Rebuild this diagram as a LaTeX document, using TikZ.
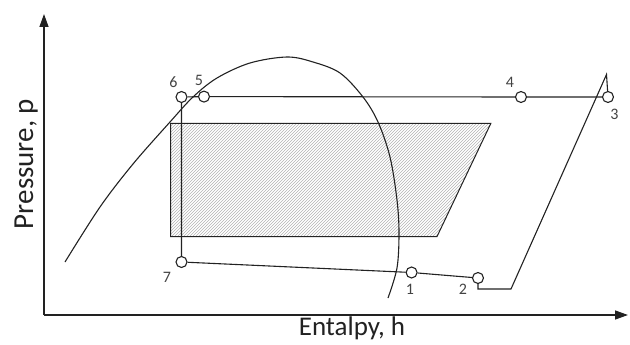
\documentclass[tikz,border=0pt]{standalone}
\usepackage{fontspec}
\setmainfont{Carlito}
\usetikzlibrary{arrows.meta,patterns}
\definecolor{ink}{HTML}{222222}
\definecolor{hatchgray}{HTML}{B2B2B2}

\begin{document}
\begin{tikzpicture}[x=1pt,y=-1pt,axis/.style={line width=1.3pt,draw=ink,-{Triangle[length=13pt,width=9pt]}},cyc/.style={line width=1.1pt,draw=ink},state/.style={circle,draw=ink,fill=white,line width=1.1pt,inner sep=0pt,minimum size=11pt},num/.style={font=\fontsize{16}{18}\selectfont,text=ink!85,inner sep=0pt},axlab/.style={font=\fontsize{27}{30}\selectfont,text=ink,inner sep=0pt}]
\useasboundingbox (0,0) rectangle (630,345);
\coordinate (o) at (44,315);
\coordinate (ytop) at (44,14);
\coordinate (xend) at (628,315);
\draw[axis] (o)--(ytop);
\draw[axis] (o)--(xend);
\node[axlab,rotate=90,anchor=base,font=\fontsize{29}{32}\selectfont] (plab) at (33,164) {Pressure, p};
\node[axlab,anchor=base] (hlab) at (352,335) {Entalpy, h};
\draw[pattern=north east lines,pattern color=hatchgray,draw=ink,line width=1pt] (170.7,123.5)--(490.8,123.5)--(437,236.6)--(170.7,236.6)--cycle;
\draw[cyc] plot[smooth,tension=0.55] coordinates {(65,262) (100,207) (133,164) (170,122) (193,97) (217,78) (250,63) (287,57) (313,62) (340,73) (363,97) (378,122) (390,157) (397,200) (399,233) (397,268) (388,298)};
\node[state] (p6) at (181.5,97) {};
\node[state] (p5) at (204,96.6) {};
\node[state] (p4) at (521,97) {};
\node[state] (p3) at (608,97) {};
\node[state] (p7) at (181.5,262) {};
\node[state] (p1) at (411.6,272.5) {};
\node[state] (p2) at (478,278) {};
\node[num] (l6) at (173.5,82) {6};
\node[num] (l5) at (199,80.5) {5};
\node[num] (l4) at (510,82) {4};
\node[num] (l3) at (614.5,114) {3};
\node[num] (l7) at (167,277) {7};
\node[num] (l1) at (410,289) {1};
\node[num] (l2) at (463,289) {2};
\coordinate (c2) at (478,289);
\coordinate (c3) at (511,289);
\coordinate (tip) at (606.5,74.5);
\draw[cyc] (p6)--(p5)--(p4)--(p3);
\draw[cyc] (p6)--(p7)--(p1)--(p2);
\draw[cyc] (p2)--(c2)--(c3)--(tip)--(p3);
\end{tikzpicture}
\end{document}
